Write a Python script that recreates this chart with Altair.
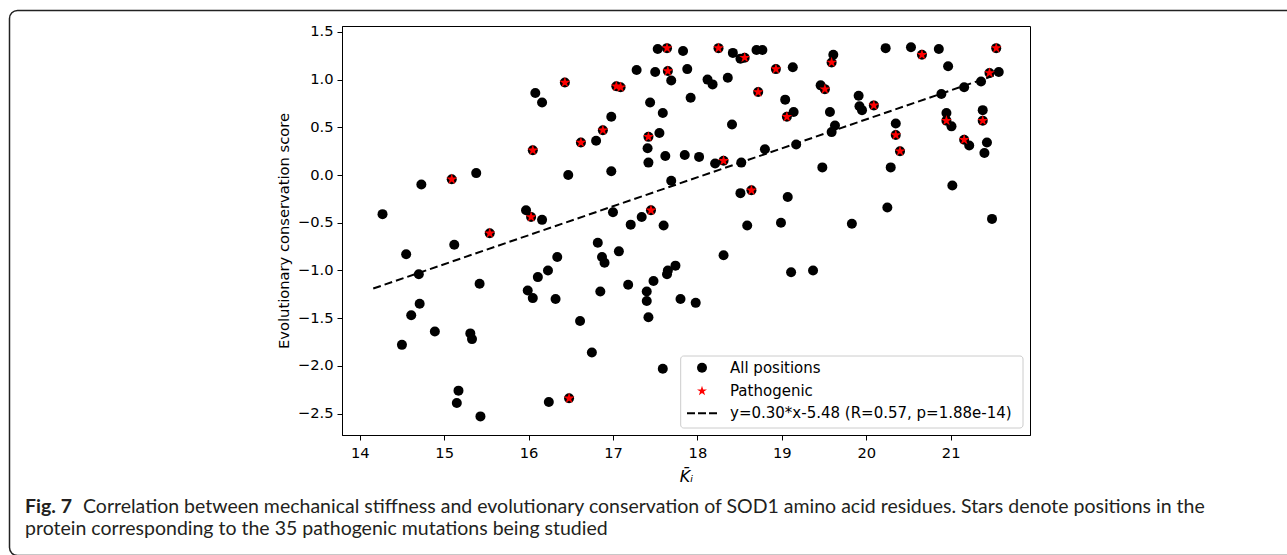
import altair as alt
import pandas as pd

# Non-pathogenic positions (black dots)
other_x = [14.27, 14.73, 15.38, 16.08, 16.16, 15.97, 16.16, 17.53, 17.83, 18.42,
           18.51, 18.70, 18.77, 19.61, 17.28, 17.50, 17.88, 17.69, 18.12, 18.18,
           18.36, 19.13, 19.46, 19.04, 17.44, 17.92, 17.59, 16.98, 19.14, 19.57,
           19.63, 19.59, 18.41, 16.80, 17.55, 17.41, 17.42, 17.62, 17.85, 18.02,
           18.21, 18.52, 18.80, 19.17, 19.48, 16.47, 16.98, 17.69, 18.51, 19.07,
           17.00, 17.34, 17.21, 17.60, 18.59, 18.99, 16.82, 20.23, 20.53, 20.86,
           20.97, 19.91, 19.92, 19.95, 21.57, 21.36, 21.16, 20.89, 20.95, 21.01,
           21.38, 20.35, 21.22, 21.43, 21.40, 20.29, 21.02, 20.25, 19.83, 21.49,
           15.12, 14.55, 14.70, 15.42, 14.71, 14.61, 14.89, 15.31, 15.33, 14.50,
           15.17, 15.15, 15.43, 16.24, 15.99, 16.05, 16.11, 16.23, 16.32, 16.34,
           16.87, 16.90, 17.07, 16.85, 17.18, 16.61, 16.75, 17.48, 17.40, 17.40,
           17.42, 17.65, 17.64, 17.74, 17.80, 17.98, 18.31, 17.59, 19.11, 19.37]
other_y = [-0.41, -0.10, 0.02, 0.86, 0.76, -0.37, -0.47, 1.32, 1.30, 1.28,
           1.22, 1.31, 1.31, 1.26, 1.10, 1.08, 1.11, 0.99, 1.00, 0.95,
           1.02, 1.13, 0.94, 0.79, 0.76, 0.81, 0.65, 0.61, 0.66, 0.66,
           0.52, 0.45, 0.53, 0.36, 0.44, 0.28, 0.13, 0.20, 0.21, 0.19,
           0.12, 0.13, 0.27, 0.32, 0.08, 0.00, 0.04, -0.06, -0.19, -0.23,
           -0.39, -0.44, -0.52, -0.53, -0.53, -0.50, -0.71, 1.33, 1.34, 1.32,
           1.14, 0.83, 0.72, 0.68, 1.08, 0.98, 0.92, 0.85, 0.65, 0.51,
           0.68, 0.54, 0.31, 0.34, 0.23, 0.08, -0.11, -0.34, -0.51, -0.46,
           -0.73, -0.83, -1.04, -1.14, -1.35, -1.47, -1.64, -1.66, -1.72, -1.78,
           -2.26, -2.39, -2.53, -2.38, -1.21, -1.29, -1.07, -1.00, -1.30, -0.86,
           -0.86, -0.92, -0.80, -1.22, -1.15, -1.53, -1.86, -1.11, -1.22, -1.32,
           -1.49, -1.00, -1.04, -0.95, -1.30, -1.34, -0.84, -2.03, -1.02, -1.00]

# Pathogenic positions (red stars)
patho_x = [15.09, 16.05, 16.03, 15.54, 17.64, 18.25, 18.56, 19.59, 17.65, 16.43,
           17.04, 17.09, 18.93, 19.51, 18.72, 19.06, 16.88, 16.62, 17.42, 18.31,
           18.64, 17.45, 20.66, 21.54, 20.09, 21.46, 20.95, 21.38, 20.35, 20.40,
           21.16, 16.48]
patho_y = [-0.045, 0.26, -0.44, -0.61, 1.33, 1.33, 1.23, 1.18, 1.09, 0.97,
           0.93, 0.92, 1.11, 0.90, 0.87, 0.61, 0.47, 0.34, 0.40, 0.15,
           -0.16, -0.37, 1.26, 1.33, 0.73, 1.07, 0.57, 0.57, 0.42, 0.25,
           0.37, -2.34]

# Fitted line end points
fit_x = [14.16, 21.57]
fit_y = [-1.19, 1.06]

x_ticks = [14, 15, 16, 17, 18, 19, 20, 21]
y_ticks = [-2.5, -2.0, -1.5, -1.0, -0.5, 0.0, 0.5, 1.0, 1.5]

legend_labels = ["All positions", "Pathogenic", "y=0.30*x-5.48 (R=0.57, p=1.88e-14)"]
caption_bold = "Fig. 7"
caption_line1 = ("Correlation between mechanical stiffness and evolutionary conservation "
                 "of SOD1 amino acid residues. Stars denote positions in the")
caption_line2 = "protein corresponding to the 35 pathogenic mutations being studied"

all_df = pd.DataFrame({"x": other_x + patho_x, "y": other_y + patho_y})
patho_df = pd.DataFrame({"x": patho_x, "y": patho_y})
fit_df = pd.DataFrame({"x": fit_x, "y": fit_y})
one = pd.DataFrame({"k": [0]})

STAR = ("M0,-1L0.2245,-0.309L0.951,-0.309L0.363,0.118L0.588,0.809L0,0.382"
        "L-0.588,0.809L-0.363,0.118L-0.951,-0.309L-0.2245,-0.309Z")

AX_FS = 14.7
LEG_FS = 15
CAP_FONT = "Lato"
CAP_FS = 19.5

xs = alt.Scale(domain=[13.79, 21.94], nice=False, zero=False)
ys = alt.Scale(domain=[-2.725, 1.562], nice=False, zero=False)

x_enc = alt.X("x:Q", scale=xs, axis=alt.Axis(values=x_ticks, format="d", title="K̄ᵢ",
                                              titleFontStyle="italic", titleFontSize=16,
                                              titlePadding=9, labelPadding=5))
y_enc = alt.Y("y:Q", scale=ys, axis=alt.Axis(values=y_ticks, format=".1f",
                                              title="Evolutionary conservation score",
                                              titlePadding=6, labelPadding=4))

line = alt.Chart(fit_df).mark_line(color="black", strokeWidth=2, strokeDash=[8, 4]).encode(
    x=x_enc, y=y_enc)
dots = alt.Chart(all_df).mark_point(shape="circle", filled=True, color="black",
                                    opacity=1, size=100).encode(x="x:Q", y="y:Q")
stars = alt.Chart(patho_df).mark_point(shape=STAR, filled=True, color="red",
                                       opacity=1, size=130).encode(x="x:Q", y="y:Q")

# legend (drawn by hand, matplotlib style)
leg_box = alt.Chart(one).mark_rect(fill="white", fillOpacity=0.8, stroke="#cccccc",
                                   strokeWidth=1, cornerRadius=3).encode(
    x=alt.value(338.7), x2=alt.value(681), y=alt.value(330), y2=alt.value(402))
leg_dot = alt.Chart(one).mark_point(shape="circle", filled=True, color="black",
                                    opacity=1, size=100).encode(
    x=alt.value(360), y=alt.value(341.7))
leg_star = alt.Chart(one).mark_point(shape=STAR, filled=True, color="red",
                                     opacity=1, size=110).encode(
    x=alt.value(360), y=alt.value(365))
leg_line = alt.Chart(one).mark_rule(color="black", strokeWidth=2, strokeDash=[8, 3]).encode(
    x=alt.value(345), x2=alt.value(376), y=alt.value(387.3))
leg_texts = [
    alt.Chart(one).mark_text(align="left", baseline="middle", font="DejaVu Sans",
                             fontSize=LEG_FS, color="black").encode(
        x=alt.value(388), y=alt.value(yy), text=alt.value(lbl))
    for lbl, yy in zip(legend_labels, [341.7, 365, 387.3])
]

# caption and frame
cap_bold = alt.Chart(one).mark_text(align="left", baseline="alphabetic",
                                    font=CAP_FONT, fontWeight="bold",
                                    fontSize=CAP_FS, color="#231f20").encode(
    x=alt.value(-317), y=alt.value(487), text=alt.value(caption_bold))
cap1 = alt.Chart(one).mark_text(align="left", baseline="alphabetic",
                                font=CAP_FONT, fontSize=CAP_FS,
                                color="#231f20").encode(
    x=alt.value(-259), y=alt.value(487), text=alt.value(caption_line1))
cap2 = alt.Chart(one).mark_text(align="left", baseline="alphabetic",
                                font=CAP_FONT, fontSize=CAP_FS,
                                color="#231f20").encode(
    x=alt.value(-317), y=alt.value(509), text=alt.value(caption_line2))
frame = alt.Chart(one).mark_rect(fillOpacity=0, stroke="#222222", strokeWidth=1.5,
                                 cornerRadius=8).encode(
    x=alt.value(-332.5), x2=alt.value(968), y=alt.value(-15.5), y2=alt.value(529.5))

chart = alt.layer(
    frame, line, dots, stars, leg_box, leg_dot, leg_star, leg_line, *leg_texts,
    cap_bold, cap1, cap2
).properties(
    width=688, height=409,
    autosize=alt.AutoSizeParams(type="none"),
    padding={"left": 342, "top": 26, "right": 257, "bottom": 120},
    background="white",
).configure_view(
    stroke="black", strokeWidth=1
).configure_axis(
    grid=False, domainColor="black", tickColor="black", tickSize=5,
    labelColor="black", titleColor="black",
    labelFont="DejaVu Sans", labelFontSize=AX_FS,
    titleFont="DejaVu Sans", titleFontSize=AX_FS, titleFontWeight="normal",
)

chart.save("out.html", embed_options={"renderer": "svg", "actions": False})
